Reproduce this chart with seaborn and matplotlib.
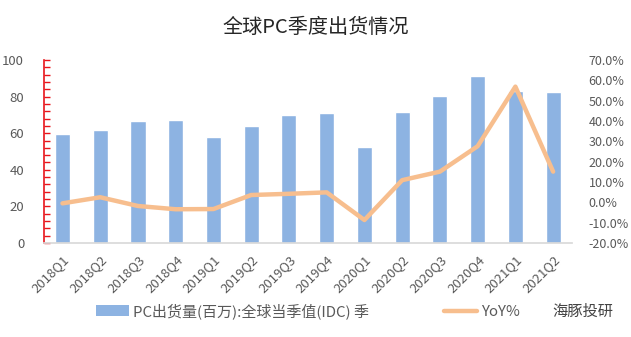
import matplotlib
matplotlib.use("Agg")
import matplotlib.pyplot as plt
import seaborn as sns
import numpy as np
from matplotlib.ticker import MultipleLocator, FuncFormatter
from matplotlib.lines import Line2D
from matplotlib.patches import Patch

quarters = ["2018Q1", "2018Q2", "2018Q3", "2018Q4", "2019Q1", "2019Q2", "2019Q3",
            "2019Q4", "2020Q1", "2020Q2", "2020Q3", "2020Q4", "2021Q1", "2021Q2"]
shipments = [59.3, 61.8, 66.8, 67.3, 58.0, 64.2, 69.9, 71.0, 52.4, 71.7, 80.1, 91.0, 83.2, 82.5]
yoy = [-0.5, 2.5, -1.8, -3.4, -3.3, 3.6, 4.2, 4.9, -8.7, 10.9, 15.1, 27.6, 56.9, 15.1]

title = "全球PC季度出货情况"
bar_label = "PC出货量(百万):全球当季值(IDC) 季"
line_label = "YoY%"
brand = "海豚投研"

sns.set_theme(style="white")
plt.rcParams["font.family"] = ["Noto Sans CJK SC", "DejaVu Sans"]

BAR_C = "#8DB3E2"
LINE_C = "#F7BE8E"
TXT_C = "#595959"

fig = plt.figure(figsize=(6.31, 3.37), dpi=100)
ax = fig.add_axes([43.6 / 631, 1 - 243 / 337, (572 - 43.6) / 631, (243 - 60) / 337])

sns.barplot(x=quarters, y=shipments, color=BAR_C, saturation=1, width=0.4, ax=ax)
ax.set_ylim(0, 100)
ax.set_xlim(-0.5, len(quarters) - 0.5)
ax.yaxis.set_major_locator(MultipleLocator(20))
ax.yaxis.set_minor_locator(MultipleLocator(4))
ax.set_xlabel("")
ax.set_ylabel("")

for s in ["top", "right"]:
    ax.spines[s].set_visible(False)
ax.spines["left"].set_color("#E8151B")
ax.spines["left"].set_linewidth(1.2)
ax.spines["bottom"].set_color("#D9D9D9")
ax.tick_params(axis="y", which="both", direction="in", colors="#E8151B",
               labelcolor=TXT_C, labelsize=9.5, length=4, width=1, pad=14)
ax.tick_params(axis="y", which="minor", length=4)
ax.tick_params(axis="x", length=0, labelcolor=TXT_C, labelsize=9.5, pad=7)
for lbl in ax.get_xticklabels():
    lbl.set_rotation(45)
    lbl.set_ha("right")
    lbl.set_rotation_mode("anchor")

ax2 = ax.twinx()
sns.lineplot(x=np.arange(len(quarters)), y=yoy, ax=ax2, color=LINE_C, linewidth=3.2, sort=False)
ax2.set_ylim(-20, 70)
ax2.yaxis.set_major_locator(MultipleLocator(10))
ax2.yaxis.set_major_formatter(FuncFormatter(lambda v, p: f"{v:.1f}%"))
ax2.tick_params(axis="y", length=0, labelcolor=TXT_C, labelsize=9, pad=12)
for s in ["top", "right", "left", "bottom"]:
    ax2.spines[s].set_visible(False)
ax2.set_ylabel("")

fig.text(316 / 631, 1 - 27 / 337, title, ha="center", va="center", fontsize=14.5, color="#262626")

handles = [Patch(facecolor=BAR_C, edgecolor="none"), Line2D([0], [0], color=LINE_C, linewidth=3.2)]
fig.legend(handles, [bar_label, line_label], loc="center left",
           bbox_to_anchor=(82 / 631, 1 - 311 / 337), ncol=2, frameon=False,
           fontsize=10.8, labelcolor=TXT_C, handlelength=2.2, handleheight=0.7,
           handletextpad=0.3, columnspacing=5.0)
fig.text(552 / 631, 1 - 311 / 337, brand, ha="left", va="center", fontsize=11, color="#444444")

fig.savefig("out.png", dpi=100)
